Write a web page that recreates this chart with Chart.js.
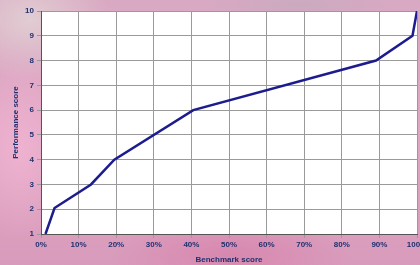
<!DOCTYPE html>
<html>
<head>
<meta charset="utf-8">
<script src="https://cdn.jsdelivr.net/npm/chart.js@4.4.1/dist/chart.umd.min.js"></script>
<style>
  html, body { margin: 0; padding: 0; }
  #wrap {
    width: 420px; height: 265px; position: relative;
    background:
      radial-gradient(ellipse 60px 90px at 20px 150px, rgba(240,180,210,0.9), rgba(240,180,210,0) 100%),
      radial-gradient(ellipse 120px 40px at 230px 255px, rgba(215,130,170,0.8), rgba(215,130,170,0) 100%),
      radial-gradient(ellipse 80px 60px at 30px 20px, rgba(225,205,210,1), rgba(225,205,210,0) 100%),
      radial-gradient(ellipse 100px 20px at 300px 5px, rgba(200,170,190,0.9), rgba(200,170,190,0) 100%),
      linear-gradient(180deg, #d9a9c3 0%, #e0a6c4 50%, #d99bbb 100%);
  }
</style>
</head>
<body>
<div id="wrap"><canvas id="chart" width="420" height="265"></canvas></div>
<script>
// benchmark score (%) vs performance score
const benchmark = [1.2, 3.6, 13.3, 19.5, 40.5, 89.1, 98.8, 100];
const performance = [1, 2.05, 3, 4, 6, 8, 9, 10];
const xTicks = [0, 10, 20, 30, 40, 50, 60, 70, 80, 90, 100];
const yTicks = [1, 2, 3, 4, 5, 6, 7, 8, 9, 10];

const labelColor = '#1f3170';
const tickFont = { family: 'Liberation Sans, Arial, sans-serif', size: 8, weight: 'bold' };

const plotBg = {
    id: 'plotBg',
    beforeDraw(chart) {
        const { ctx, chartArea: a } = chart;
        ctx.save();
        ctx.fillStyle = '#ffffff';
        ctx.fillRect(a.left, a.top, a.right - a.left, a.bottom - a.top);
        ctx.restore();
    }
};

new Chart(document.getElementById('chart'), {
    type: 'line',
    data: {
        datasets: [{
            data: benchmark.map((x, i) => ({ x: x, y: performance[i] })),
            borderColor: '#1c1c8e',
            borderWidth: 2.5,
            pointRadius: 0,
            tension: 0,
            fill: false
        }]
    },
    options: {
        responsive: false,
        animation: false,
        layout: { padding: { left: 0, right: 3, top: 11, bottom: 0 } },
        plugins: { legend: { display: false }, tooltip: { enabled: false } },
        scales: {
            x: {
                type: 'linear', min: 0, max: 100,
                afterBuildTicks: s => { s.ticks = xTicks.map(v => ({ value: v })); },
                afterFit: s => { s.height = 31; s.paddingLeft = 0; s.paddingRight = 0; },
                ticks: { callback: v => v + '%', color: labelColor, font: tickFont, maxRotation: 0, padding: 2 },
                grid: { color: '#9a9a9a', lineWidth: 1, tickLength: 4 },
                border: { color: '#555555' },
                title: { display: true, text: 'Benchmark score', color: labelColor, font: tickFont, padding: { top: 4, bottom: 0 } }
            },
            y: {
                min: 1, max: 10,
                afterBuildTicks: s => { s.ticks = yTicks.map(v => ({ value: v })); },
                afterFit: s => { s.width = 41; s.paddingTop = 0; s.paddingBottom = 0; },
                ticks: { color: labelColor, font: tickFont, padding: 3 },
                grid: { color: '#9a9a9a', lineWidth: 1, tickLength: 4 },
                border: { color: '#555555' },
                title: { display: true, text: 'Performance score', color: labelColor, font: tickFont, padding: { top: 11, bottom: 0 } }
            }
        }
    },
    plugins: [plotBg]
});
</script>
</body>
</html>
